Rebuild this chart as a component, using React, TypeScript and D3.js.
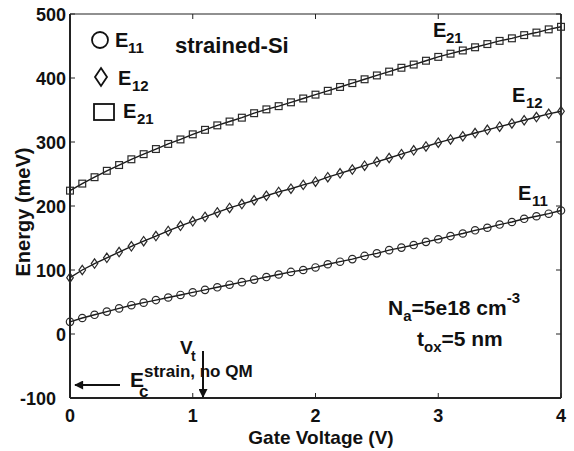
import React from "react";
import * as d3 from "d3";

const gateVoltage: number[] = d3.range(41).map((i) => i / 10);

const e11: number[] = [19, 25, 30, 35, 40, 45, 49, 53, 57, 61, 65, 69, 73, 77, 81, 85, 89, 93, 97, 100, 104,
  109, 113, 117, 122, 126, 131, 135, 139, 144, 148, 153, 157, 162, 166, 171, 175, 180, 184, 188, 193];
const e12: number[] = [88, 100, 110, 119, 128, 137, 145, 153, 161, 169, 176, 183, 190, 197, 203, 209, 216, 222, 227, 233, 238,
  245, 251, 257, 263, 269, 275, 281, 287, 293, 299, 304, 309, 314, 319, 324, 329, 334, 339, 344, 348];
const e21: number[] = [224, 235, 245, 255, 264, 273, 281, 289, 297, 304, 312, 319, 326, 332, 338, 345, 351, 356, 362, 368, 374,
  380, 386, 392, 398, 404, 410, 416, 421, 427, 433, 438, 443, 448, 453, 458, 462, 467, 471, 476, 480];

const xTicks: number[] = [0, 1, 2, 3, 4];
const yTicks: number[] = [-100, 0, 100, 200, 300, 400, 500];

const W = 574, H = 451;
const L = 70, R = 561, T = 14, B = 398;
const FONT = "'Liberation Sans', Arial, Helvetica, sans-serif";
const INK = "#111";

export default function App() {
  const x = d3.scaleLinear().domain([0, 4]).range([L, R]);
  const y = d3.scaleLinear().domain([-100, 500]).range([B, T]);
  const line = d3.line<number>().x((_, i) => x(gateVoltage[i])).y((d) => y(d));

  const circles = e11.map((d, i) => (
    <circle key={i} cx={x(gateVoltage[i])} cy={y(d)} r={3.7} fill="none" stroke="#2a2a2a" strokeWidth={1.2} />
  ));
  const diamonds = e12.map((d, i) => {
    const cx = x(gateVoltage[i]), cy = y(d);
    return (
      <path key={i} d={`M${cx},${cy - 4.7}L${cx + 3.3},${cy}L${cx},${cy + 4.7}L${cx - 3.3},${cy}Z`}
        fill="none" stroke="#2a2a2a" strokeWidth={1.2} />
    );
  });
  const squares = e21.map((d, i) => (
    <rect key={i} x={x(gateVoltage[i]) - 3.4} y={y(d) - 3.4} width={6.8} height={6.8}
      fill="none" stroke="#2a2a2a" strokeWidth={1.2} />
  ));

  return (
    <svg width={W} height={H} style={{ position: "absolute", left: 0, top: 0, background: "#fff" }}
      fontFamily={FONT} fontWeight="bold" fill={INK}>
      <defs>
        <marker id="ah" viewBox="0 0 10 10" refX="9" refY="5" markerWidth="5" markerHeight="4.5" orient="auto" markerUnits="strokeWidth">
          <path d="M0,0L10,5L0,10Z" fill={INK} />
        </marker>
      </defs>
      <rect x={0} y={0} width={W} height={H} fill="#fff" />

      {/* axes box */}
      <line x1={L} y1={T} x2={R} y2={T} stroke="#222" strokeWidth={1.2} />
      <line x1={R} y1={T} x2={R} y2={B} stroke="#222" strokeWidth={1.8} />
      <line x1={L} y1={T} x2={L} y2={B} stroke="#222" strokeWidth={2} />
      <line x1={L} y1={B} x2={R} y2={B} stroke="#222" strokeWidth={2} />

      {xTicks.map((t) => (
        <g key={"xt" + t}>
          <line x1={x(t)} x2={x(t)} y1={B} y2={B - 5} stroke="#222" strokeWidth={1} />
          <line x1={x(t)} x2={x(t)} y1={T} y2={T + 5} stroke="#222" strokeWidth={1} />
          <text x={x(t)} y={422} textAnchor="middle" fontSize={18}>{t}</text>
        </g>
      ))}
      {yTicks.map((t, i) => (
        <g key={"yt" + t}>
          <line x1={L} x2={L + 5} y1={y(t)} y2={y(t)} stroke="#222" strokeWidth={1} />
          <line x1={R} x2={R - 5} y1={y(t)} y2={y(t)} stroke="#222" strokeWidth={1} />
          <text x={i === 0 ? 56 : 66} y={y(t) + 7} textAnchor="end" fontSize={18}>{t}</text>
        </g>
      ))}

      <text x={321} y={444} textAnchor="middle" fontSize={19}>Gate Voltage (V)</text>
      <text transform="translate(30,212) rotate(-90)" textAnchor="middle" fontSize={20}>Energy (meV)</text>

      {/* series */}
      <path d={line(e21) || ""} fill="none" stroke="#1a1a1a" strokeWidth={1.4} />
      <path d={line(e12) || ""} fill="none" stroke="#1a1a1a" strokeWidth={1.4} />
      <path d={line(e11) || ""} fill="none" stroke="#1a1a1a" strokeWidth={1.4} />
      <g>{squares}</g>
      <g>{diamonds}</g>
      <g>{circles}</g>

      {/* legend */}
      <circle cx={100} cy={40} r={8} fill="none" stroke={INK} strokeWidth={1.8} />
      <text x={115} y={47} fontSize={20}>E<tspan x={128} y={53} fontSize={15}>11</tspan></text>
      <text x={175} y={53} fontSize={22}>strained-Si</text>
      <path d="M101,68L107,77L101,86L95,77Z" fill="none" stroke={INK} strokeWidth={1.8} />
      <text x={118} y={85} fontSize={20}>E<tspan x={132} y={91} fontSize={15}>12</tspan></text>
      <rect x={94} y={104} width={20} height={16} fill="none" stroke={INK} strokeWidth={1.8} />
      <text x={123} y={118} fontSize={20}>E<tspan x={137} y={124} fontSize={15}>21</tspan></text>

      {/* curve labels */}
      <text x={433} y={37} fontSize={20}>E<tspan x={446} y={43} fontSize={15}>21</tspan></text>
      <text x={512} y={102} fontSize={20}>E<tspan x={526} y={108} fontSize={15}>12</tspan></text>
      <text x={518} y={200} fontSize={20}>E<tspan x={532} y={206} fontSize={15}>11</tspan></text>

      {/* parameters */}
      <text x={388} y={315} fontSize={21}>N<tspan dy={6} fontSize={15}>a</tspan><tspan dy={-6} fontSize={21}>=5e18 cm</tspan><tspan dy={-12} fontSize={15}>-3</tspan></text>
      <text x={417} y={346} fontSize={21}>t<tspan dy={6} fontSize={15}>ox</tspan><tspan dy={-6} fontSize={21}>=5 nm</tspan></text>

      {/* annotations */}
      <line x1={120} y1={385} x2={75} y2={385} stroke={INK} strokeWidth={2} markerEnd="url(#ah)" />
      <text x={130} y={387} fontSize={21}>E<tspan x={144} y={377} fontSize={17}>strain, no QM</tspan><tspan x={139} y={397} fontSize={17}>c</tspan></text>
      <text x={180} y={354} fontSize={19}>V<tspan x={191} y={361} fontSize={14}>t</tspan></text>
      <line x1={203} y1={351} x2={203} y2={397} stroke={INK} strokeWidth={2} markerEnd="url(#ah)" />
    </svg>
  );
}
